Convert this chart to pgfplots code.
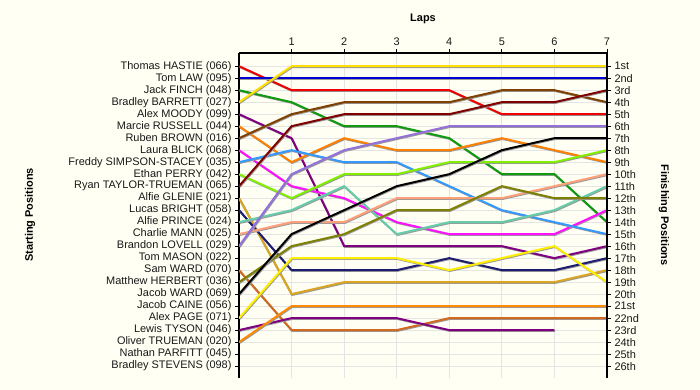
\documentclass[border=0pt]{standalone}
\usepackage{fontspec}
\setmainfont{Liberation Sans}
\usepackage{pgfplots}
\pgfplotsset{compat=1.18}
\definecolor{bg}{HTML}{FFFFF4}
\definecolor{gridc}{HTML}{E4E4E4}
\definecolor{cRed}{HTML}{F00000}
\definecolor{cBlue}{HTML}{0000D0}
\definecolor{cGreen}{HTML}{109A10}
\definecolor{cYellow}{HTML}{FFE000}
\definecolor{cPurple}{HTML}{800080}
\definecolor{cOrange}{HTML}{FF8000}
\definecolor{cBrown}{HTML}{804000}
\definecolor{cMagenta}{HTML}{FF10FF}
\definecolor{cLightBlue}{HTML}{3399FF}
\definecolor{cLime}{HTML}{80F000}
\definecolor{cDarkRed}{HTML}{800000}
\definecolor{cGoldenrod}{HTML}{DAA520}
\definecolor{cNavy}{HTML}{1C1C70}
\definecolor{cTeal}{HTML}{66CDAA}
\definecolor{cSalmon}{HTML}{FFA07A}
\definecolor{cLavender}{HTML}{9370DB}
\definecolor{cChocolate}{HTML}{D2691E}
\definecolor{cOlive}{HTML}{808000}
\definecolor{cBlack}{HTML}{000000}
\definecolor{cYellowB}{HTML}{FFEE00}
\definecolor{cPurpleB}{HTML}{800080}
\definecolor{cOrangeB}{HTML}{FF8C00}
\begin{document}
\begin{tikzpicture}
\path[use as bounding box, fill=bg] (0bp,0bp) rectangle (700bp,-390bp);
\pgfplotsset{
  common/.style={
    at={(239bp,-53bp)}, anchor=north west,
    width=368bp, height=324.5bp, scale only axis,
    xmin=0, xmax=7, ymin=-0.1, ymax=26.95, y dir=reverse,
    ytick={1,...,26},
    tick align=outside, major tick length=4bp,
    tick style={black, line width=0.8bp},
    axis line style={black, line width=1.1bp},
    tick label style={font=\fontsize{11}{12}\selectfont, text=black!90},
    /pgf/number format/assume math mode=true,
  }
}
\begin{axis}[common,
  axis x line*=top, axis y line*=left,
  xtick={1,...,7},
  yticklabels={Thomas HASTIE (066),Tom LAW (095),Jack FINCH (048),Bradley BARRETT (027),Alex MOODY (099),Marcie RUSSELL (044),Ruben BROWN (016),Laura BLICK (068),Freddy SIMPSON-STACEY (035),Ethan PERRY (042),Ryan TAYLOR-TRUEMAN (065),Alfie GLENIE (021),Lucas BRIGHT (058),Alfie PRINCE (024),Charlie MANN (025),Brandon LOVELL (029),Tom MASON (022),Sam WARD (070),Matthew HERBERT (036),Jacob WARD (069),Jacob CAINE (056),Alex PAGE (071),Lewis TYSON (046),Oliver TRUEMAN (020),Nathan PARFITT (045),Bradley STEVENS (098)},
  grid=major, grid style={gridc, line width=0.8bp},
  every axis plot/.append style={line width=2bp, mark=none,
    preaction={draw=black!40, line width=2bp, transform canvas={xshift=0.7bp,yshift=-0.8bp}}},
]
\addplot[cRed] coordinates {(0,1)(1,3)(2,3)(3,3)(4,3)(5,5)(6,5)(7,5)};
\addplot[cBlue] coordinates {(0,2)(1,2)(2,2)(3,2)(4,2)(5,2)(6,2)(7,2)};
\addplot[cGreen] coordinates {(0,3)(1,4)(2,6)(3,6)(4,7)(5,10)(6,10)(7,14)};
\addplot[cPurple] coordinates {(0,5)(1,7)(2,16)(3,16)(4,16)(5,16)(6,17)(7,16)};
\addplot[cOrange] coordinates {(0,6)(1,9)(2,7)(3,8)(4,8)(5,7)(6,8)(7,9)};
\addplot[cBrown] coordinates {(0,7)(1,5)(2,4)(3,4)(4,4)(5,3)(6,3)(7,4)};
\addplot[cMagenta] coordinates {(0,8)(1,11)(2,12)(3,14)(4,15)(5,15)(6,15)(7,13)};
\addplot[cLightBlue] coordinates {(0,9)(1,8)(2,9)(3,9)(4,11)(5,13)(6,14)(7,15)};
\addplot[cLime] coordinates {(0,10)(1,12)(2,10)(3,10)(4,9)(5,9)(6,9)(7,8)};
\addplot[cDarkRed] coordinates {(0,11)(1,6)(2,5)(3,5)(4,5)(5,4)(6,4)(7,3)};
\addplot[cGoldenrod] coordinates {(0,12)(1,20)(2,19)(3,19)(4,19)(5,19)(6,19)(7,18)};
\addplot[cNavy] coordinates {(0,13)(1,18)(2,18)(3,18)(4,17)(5,18)(6,18)(7,17)};
\addplot[cTeal] coordinates {(0,14)(1,13)(2,11)(3,15)(4,14)(5,14)(6,13)(7,11)};
\addplot[cSalmon] coordinates {(0,15)(1,14)(2,14)(3,12)(4,12)(5,12)(6,11)(7,10)};
\addplot[cLavender] coordinates {(0,16)(1,10)(2,8)(3,7)(4,6)(5,6)(6,6)(7,6)};
\addplot[cChocolate] coordinates {(0,18)(1,23)(2,23)(3,23)(4,22)(5,22)(6,22)(7,22)};
\addplot[cOlive] coordinates {(0,19)(1,16)(2,15)(3,13)(4,13)(5,11)(6,12)(7,12)};
\addplot[cBlack] coordinates {(0,20)(1,15)(2,13)(3,11)(4,10)(5,8)(6,7)(7,7)};
\addplot[cYellowB] coordinates {(0,22)(1,17)(2,17)(3,17)(4,18)(5,17)(6,16)(7,19)};
\addplot[cPurpleB] coordinates {(0,23)(1,22)(2,22)(3,22)(4,23)(5,23)(6,23)};
\addplot[cOrangeB] coordinates {(0,24)(1,21)(2,21)(3,21)(4,21)(5,21)(6,21)(7,21)};
\addplot[cYellow] coordinates {(0,4)(1,1)(2,1)(3,1)(4,1)(5,1)(6,1)(7,1)};
\end{axis}
\begin{axis}[common,
  axis x line=none, axis y line*=right,
  yticklabels={1st,2nd,3rd,4th,5th,6th,7th,8th,9th,10th,11th,12th,13th,14th,15th,16th,17th,18th,19th,20th,21st,22nd,23rd,24th,25th,26th},
]
\end{axis}
\node[font=\bfseries\fontsize{11}{12}\selectfont] at (423bp,-19bp) {Laps};
\node[font=\bfseries\fontsize{11}{12}\selectfont, rotate=90] at (30bp,-215bp) {Starting Positions};
\node[font=\bfseries\fontsize{11}{12}\selectfont, rotate=-90] at (664bp,-215bp) {Finishing Positions};
\end{tikzpicture}
\end{document}
